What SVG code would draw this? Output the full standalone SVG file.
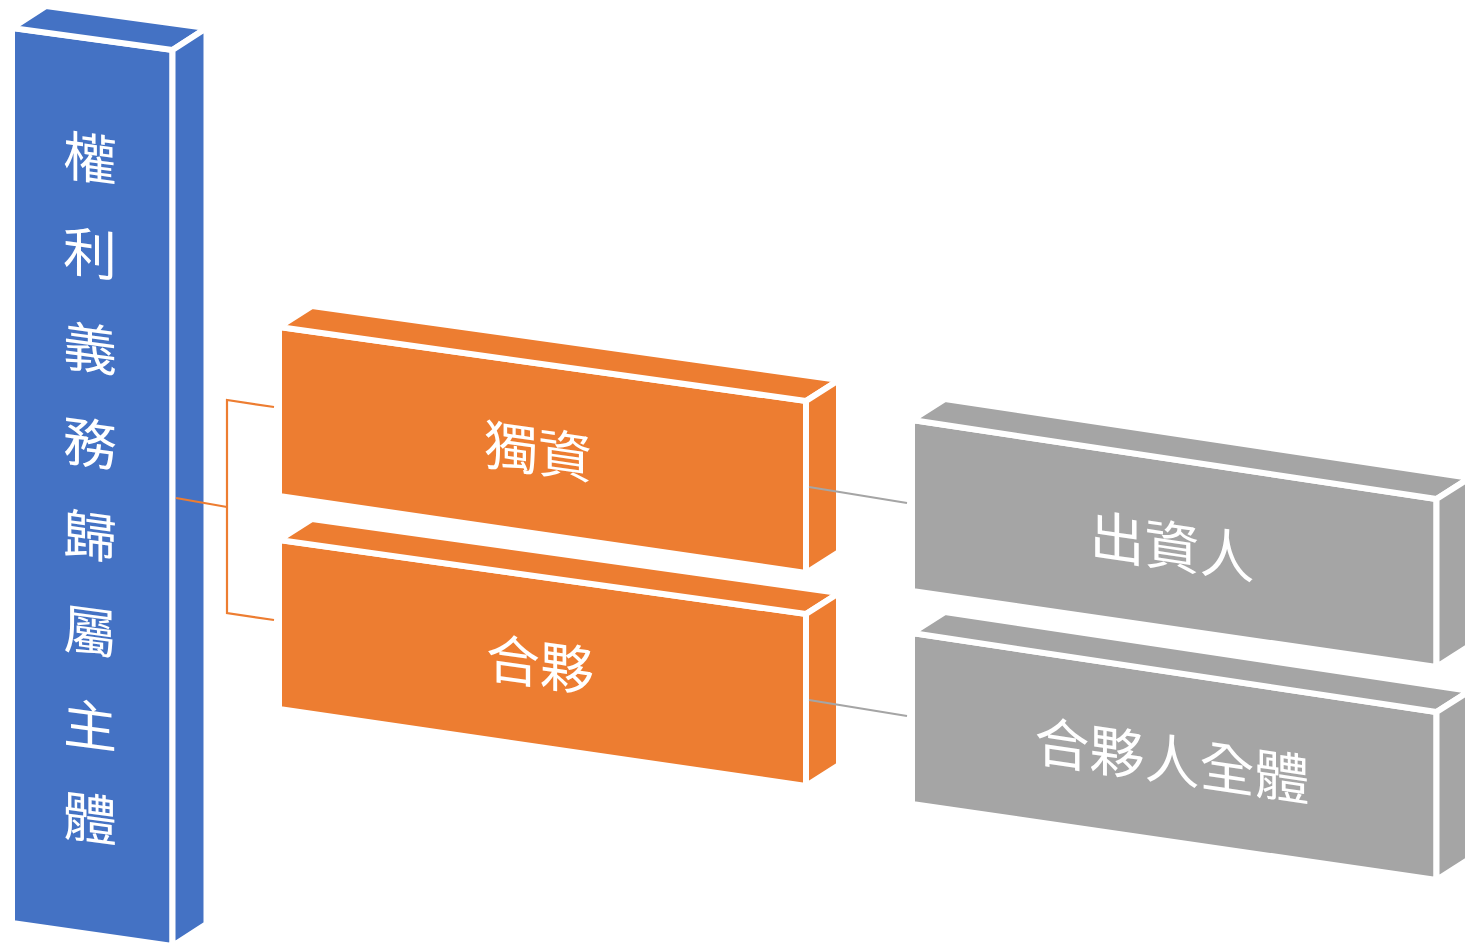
<svg xmlns="http://www.w3.org/2000/svg" width="1465" height="944" viewBox="0 0 1465 944">
  <style>
    .face { stroke: #FFFFFF; stroke-width: 6; stroke-linejoin: miter; }
    .blue { fill: #4472C4; }
    .orange { fill: #ED7D31; }
    .gray { fill: #A5A5A5; }
    .lbl { font-family: "Noto Sans CJK TC", "Noto Sans CJK SC", sans-serif; fill: #FFFFFF; text-anchor: middle; dominant-baseline: central; font-weight: 400; }
    .conn-o { stroke: #ED7D31; stroke-width: 2.2; fill: none; }
    .conn-g { stroke: #A5A5A5; stroke-width: 2.2; fill: none; }
  </style>
  <rect width="1465" height="944" fill="#FFFFFF"/>

  <g id="node-root">
    <polygon class="face blue" points="12,28 172.5,50 172.5,946 12,923"/>
    <polygon class="face blue" points="12,28 46,6 206.5,28 172.5,50"/>
    <polygon class="face blue" points="172.5,50 206.5,28 206.5,924 172.5,946"/>
    <g class="lbl" font-size="54">
      <text transform="translate(90,155) skewY(7.6)">權</text>
      <text transform="translate(90,250) skewY(7.6)">利</text>
      <text transform="translate(90,345) skewY(7.6)">義</text>
      <text transform="translate(90,440) skewY(7.6)">務</text>
      <text transform="translate(90,533) skewY(7.6)">歸</text>
      <text transform="translate(90,628) skewY(7.6)">屬</text>
      <text transform="translate(90,722) skewY(7.6)">主</text>
      <text transform="translate(90,815) skewY(7.6)">體</text>
    </g>
  </g>

  <g id="node-duzi">
    <polygon class="face orange" points="279,327 806,401 806,573 279,496"/>
    <polygon class="face orange" points="279,327 312,306 839,380 806,401"/>
    <polygon class="face orange" points="806,401 839,380 839,552 806,573"/>
    <text class="lbl" font-size="54" transform="translate(538,448) skewY(8.1)">獨資</text>
  </g>

  <g id="node-hehuo">
    <g transform="translate(0,213)">
      <polygon class="face orange" points="279,327 806,401 806,573 279,496"/>
      <polygon class="face orange" points="279,327 312,306 839,380 806,401"/>
      <polygon class="face orange" points="806,401 839,380 839,552 806,573"/>
    </g>
    <text class="lbl" font-size="54" transform="translate(540,661) skewY(8.1)">合夥</text>
  </g>

  <g id="node-chuziren">
    <polygon class="face gray" points="912,420 1436.5,499 1436.5,667 912,591"/>
    <polygon class="face gray" points="912,420 945,399 1469.5,478 1436.5,499"/>
    <polygon class="face gray" points="1436.5,499 1469.5,478 1469.5,646 1436.5,667"/>
    <text class="lbl" font-size="55" transform="translate(1172,543) skewY(8.4)">出資人</text>
  </g>

  <g id="node-hehuoren">
    <g transform="translate(0,213)">
      <polygon class="face gray" points="912,420 1436.5,499 1436.5,667 912,591"/>
      <polygon class="face gray" points="912,420 945,399 1469.5,478 1436.5,499"/>
      <polygon class="face gray" points="1436.5,499 1469.5,478 1469.5,646 1436.5,667"/>
    </g>
    <text class="lbl" font-size="55" transform="translate(1172,757) skewY(8.4)">合夥人全體</text>
  </g>

  <g id="connectors">
    <polyline class="conn-o" points="176,498 227,507"/>
    <polyline class="conn-o" points="274,407 227,400 227,613 274,620"/>
    <line class="conn-g" x1="809" y1="487" x2="907" y2="503"/>
    <line class="conn-g" x1="809" y1="700" x2="907" y2="716"/>
  </g>
</svg>
